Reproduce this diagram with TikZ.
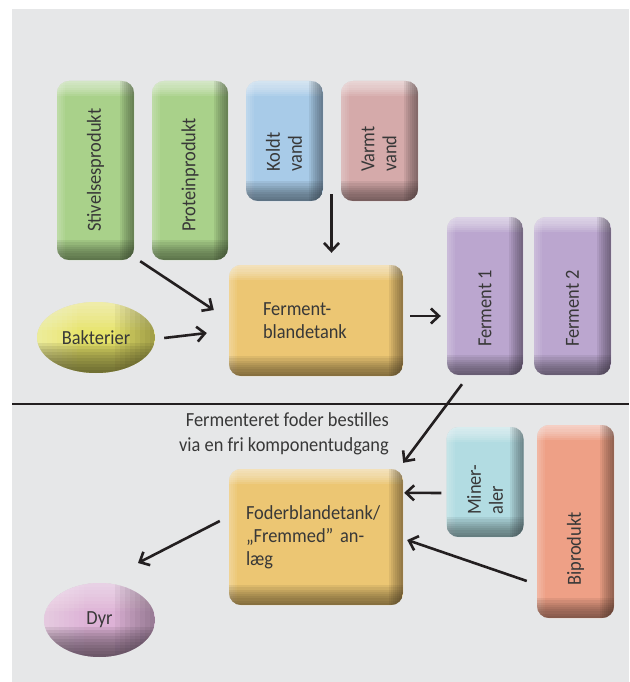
\documentclass[tikz,border=0pt]{standalone}
\usepackage{fontspec}
\setmainfont{Carlito}[FakeStretch=0.92]
\usetikzlibrary{arrows.meta,shapes.geometric}
\definecolor{bgc}{HTML}{E6E7E8}
\definecolor{linec}{HTML}{231F20}
\definecolor{txtc}{HTML}{383838}
\definecolor{cgreen}{HTML}{A9D18A}
\definecolor{cblue}{HTML}{A8CBE8}
\definecolor{cred}{HTML}{D5AAAA}
\definecolor{corange}{HTML}{ECC673}
\definecolor{cpurple}{HTML}{BBA6CF}
\definecolor{cyellow}{HTML}{E7E46A}
\definecolor{ccyan}{HTML}{B2DCE2}
\definecolor{csalmon}{HTML}{EEA086}
\definecolor{cpink}{HTML}{DDB2D6}
\def\ppb{path picture bounding box}
\tikzset{
  bev/.style={rectangle, rounded corners=12pt, fill=#1, inner sep=0pt, draw=none,
    path picture={
      \foreach \i in {1,...,7} {\fill[sharp corners, white, fill opacity=0.1]
        (\ppb.north west) rectangle ([yshift={-\i*2.2pt}]\ppb.north east);}
      \foreach \i in {1,...,4} {\fill[sharp corners, white, fill opacity=0.07]
        (\ppb.north west) rectangle ([xshift={\i*2pt}]\ppb.south west);}
      \foreach \i in {1,...,7} {\fill[sharp corners, black!75!#1, fill opacity=0.09]
        ([xshift={-\i*2pt}]\ppb.south east) rectangle (\ppb.north east);}
      \foreach \i in {1,...,9} {\fill[sharp corners, black!75!#1, fill opacity=0.085]
        (\ppb.south west) rectangle ([yshift={\i*2.2pt}]\ppb.south east);}
    }},
  bevell/.style={ellipse, fill=#1, inner sep=0pt, draw=none,
    path picture={
      \foreach \i in {1,...,8} {\fill[white, fill opacity=0.07]
        (\ppb.north west) rectangle ([yshift={-\i*3.5pt}]\ppb.north east);}
      \foreach \i in {1,...,8} {\fill[white, fill opacity=0.05]
        (\ppb.north west) rectangle ([xshift={\i*5pt}]\ppb.south west);}
      \foreach \i in {1,...,8} {\fill[black!75!#1, fill opacity=0.06]
        ([xshift={-\i*5pt}]\ppb.south east) rectangle (\ppb.north east);}
      \foreach \i in {1,...,10} {\fill[black!75!#1, fill opacity=0.1]
        (\ppb.south west) rectangle ([yshift={\i*3pt}]\ppb.south east);}
    }},
  txt/.style={text=txtc, inner sep=0pt, font=\fontsize{20}{23}\selectfont},
  vtxt/.style={txt, rotate=90, anchor=west, align=left, font=\fontsize{20}{22}\selectfont},
  arr/.style={draw=linec, line width=2.6pt, -{Straight Barb[length=8pt, width=15pt, line width=2.6pt]}},
}
\begin{document}
\begin{tikzpicture}[x=1pt,y=-1pt]
\useasboundingbox (0,0) rectangle (629,682);
\fill[bgc] (12,9) rectangle (629,682);

% upper boxes
\node[bev=cgreen, minimum width=77pt, minimum height=179pt] (stiv) at (95.5,170.5) {};
\node[bev=cgreen, minimum width=76pt, minimum height=179pt] (prot) at (190,170.5) {};
\node[bev=cblue, minimum width=77pt, minimum height=120pt] (koldt) at (284.5,141) {};
\node[bev=cred, minimum width=77pt, minimum height=120pt] (varmt) at (379.5,141) {};
\node[vtxt] (stivt) at (95.5,232) {Stivelsesprodukt};
\node[vtxt] (prott) at (190,232) {Proteinprodukt};
\node[vtxt] (koldtt) at (284,172) {Koldt\\vand};
\node[vtxt] (varmtt) at (379,172) {Varmt\\vand};

\node[bev=corange, minimum width=174pt, minimum height=111pt, text width=106pt, inner xsep=34pt, align=left, txt] (fbt) at (316,320.5) {Ferment-\\blandetank};
\node[bevell=cyellow, minimum width=118pt, minimum height=71pt, txt] (bakt) at (96,337.5) {Bakterier};

\node[bev=cpurple, minimum width=76pt, minimum height=158pt] (f1) at (485,296) {};
\node[bev=cpurple, minimum width=77pt, minimum height=158pt] (f2) at (572.5,296) {};
\node[vtxt] (f1t) at (485,347) {Ferment 1};
\node[vtxt] (f2t) at (572.5,347) {Ferment 2};

% divider
\draw[linec, line width=2.6pt] (12,404) -- (629,404);

% lower part
\node[txt, align=right, anchor=east, font=\fontsize{20}{25}\selectfont] (note) at (389,434) {Fermenteret foder bestilles\\via en fri komponentudgang};
\node[bev=corange, minimum width=174pt, minimum height=136pt, text width=140pt, inner xsep=17pt, align=left, txt] (foder) at (316,537) {Foderblandetank/\\„Fremmed” an-\\læg};
\node[bev=ccyan, minimum width=77pt, minimum height=110pt] (miner) at (485,482) {};
\node[vtxt] (minert) at (485,515) {Miner-\\aler};
\node[bev=csalmon, minimum width=77pt, minimum height=193pt] (bip) at (575.5,521.5) {};
\node[vtxt] (bipt) at (575.5,586) {Biprodukt};
\node[bevell=cpink, minimum width=111pt, minimum height=74pt, txt] (dyr) at (99.5,620) {Dyr};

% connectors
\coordinate (water) at (331.5,194);
\draw[arr] (water) -- ([yshift=12pt]water |- fbt.north);
\draw[arr] ([xshift=6pt,yshift=-1pt]stiv.south east) -- ([xshift=-15pt,yshift=10.5pt]fbt.west);
\draw[arr] ([xshift=9pt,yshift=-0.5pt]bakt.east) -- ([xshift=-22pt,yshift=-12.5pt]fbt.west);
\draw[arr] ([xshift=7pt,yshift=4.5pt]fbt.east) -- ([xshift=-6pt,yshift=-20pt]f1.west);
\draw[arr] ([xshift=-23pt,yshift=-9pt]f1.south) -- ([yshift=6pt]foder.north east);
\draw[arr] ([xshift=-5pt,yshift=-11pt]miner.west) -- ([xshift=1pt,yshift=-24pt]foder.north east);
\draw[arr] ([xshift=-10pt,yshift=-59.5pt]bip.west) -- ([xshift=4pt,yshift=-3pt]foder.east);
\draw[arr] ([xshift=-9pt,yshift=16pt]foder.west) -- ([xshift=38.5pt,yshift=57pt]dyr.center);
\end{tikzpicture}
\end{document}
